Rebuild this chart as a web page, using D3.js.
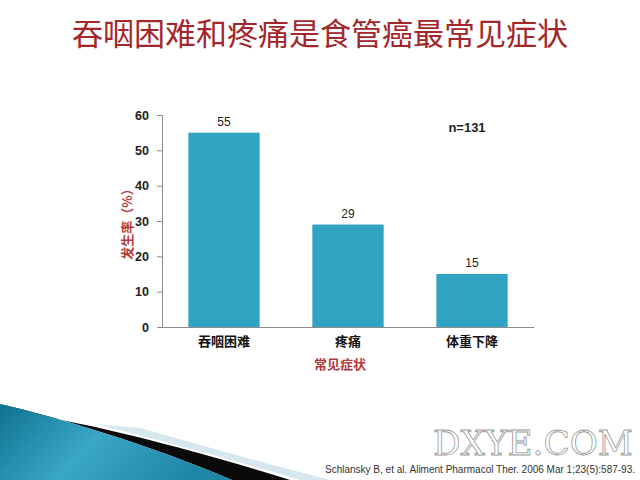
<!DOCTYPE html>
<html><head><meta charset="utf-8">
<script src="https://cdn.jsdelivr.net/npm/d3@7"></script>
<style>body{margin:0;background:#fff}svg{display:block}</style>
</head><body>
<script>
const categories = ["吞咽困难", "疼痛", "体重下降"];
const values = [55, 29, 15];
const yTicks = [0, 10, 20, 30, 40, 50, 60];
const title = "吞咽困难和疼痛是食管癌最常见症状";
const yLabel = "发生率（%）";
const xLabel = "常见症状";
const note = "n=131";
const citation = "Schlansky B, et al. Aliment Pharmacol Ther. 2006 Mar 1;23(5):587-93.";

const W = 640, H = 480;
const svg = d3.select("body").append("svg").attr("width", W).attr("height", H);
const defs = svg.append("defs");
const g1 = defs.append("linearGradient").attr("id","blueG").attr("x1","0").attr("y1","0").attr("x2","1").attr("y2","0.3");
g1.append("stop").attr("offset","0").attr("stop-color","#0f7390");
g1.append("stop").attr("offset","0.5").attr("stop-color","#3aa6c8");
g1.append("stop").attr("offset","1").attr("stop-color","#1f86a6");

// bottom decoration
svg.append("path").attr("d","M300,480 C240,462 160,440 95,424 L140,428 C200,445 260,462 330,480 Z").attr("fill","#d6e7ef");
svg.append("path").attr("d","M0,404 C60,418 150,445 232,480 L290,480 C220,458 120,430 40,416 C25,413 10,408 0,404 Z").attr("fill","#0a0a0a");
svg.append("path").attr("d","M0,404 C60,418 150,445 232,480 L0,480 Z").attr("fill","url(#blueG)");

const x = d3.scaleBand().domain(categories).range([162, 534]).padding(0);
const y = d3.scaleLinear().domain([0, 60]).range([327, 115]);
const barW = x.bandwidth() * 0.575;

svg.append("text").attr("x", 320).attr("y", 45).attr("text-anchor","middle")
  .attr("font-family","Noto Sans CJK SC").attr("font-size", 31).attr("fill","#a3262a").text(title);

// axes
const yAxis = d3.axisLeft(y).tickValues(yTicks).tickSize(5).tickPadding(8);
const ya = svg.append("g").attr("transform","translate(162,0)").call(yAxis);
ya.select(".domain").attr("stroke","#8c8c8c");
ya.selectAll(".tick line").attr("stroke","#8c8c8c");
ya.selectAll("text").attr("font-family","Liberation Sans, Arial").attr("font-weight","bold").attr("font-size",12.5).attr("fill","#222");

const xAxis = d3.axisBottom(x).tickSize(0).tickPadding(10);
const xa = svg.append("g").attr("transform","translate(0,327)").call(xAxis);
xa.select(".domain").attr("stroke","#8c8c8c");
xa.selectAll("text").attr("font-family","Noto Sans CJK SC").attr("font-weight","bold").attr("font-size",13).attr("fill","#111");

svg.append("g").selectAll("rect").data(values).join("rect")
  .attr("x",(d,i)=>x(categories[i]) + (x.bandwidth()-barW)/2)
  .attr("y",d=>y(d)).attr("width",barW).attr("height",d=>y(0)-y(d))
  .attr("fill","#2fa3c1");

svg.append("g").selectAll("text").data(values).join("text")
  .attr("x",(d,i)=>x(categories[i]) + x.bandwidth()/2)
  .attr("y",d=>y(d)-7).attr("text-anchor","middle")
  .attr("font-family","Liberation Sans, Arial").attr("font-size",12).attr("fill","#222").text(d=>d);

svg.append("text").attr("x",467).attr("y",132).attr("text-anchor","middle")
  .attr("font-family","Liberation Sans, Arial").attr("font-weight","bold").attr("font-size",13).attr("fill","#222").text(note);

svg.append("text").attr("transform","translate(132,221) rotate(-90)").attr("text-anchor","middle")
  .attr("font-family","Noto Sans CJK SC").attr("font-weight","bold").attr("font-size",13).attr("fill","#b5393c").text(yLabel);

svg.append("text").attr("x",340).attr("y",369).attr("text-anchor","middle")
  .attr("font-family","Noto Sans CJK SC").attr("font-weight","bold").attr("font-size",13).attr("fill","#b5393c").text(xLabel);

svg.append("text").attr("x",433).attr("y",455)
  .attr("font-family","DejaVu Serif").attr("font-size",34).attr("fill","#fff")
  .attr("stroke","#999").attr("stroke-width",0.8)
  .attr("textLength",200).attr("lengthAdjust","spacingAndGlyphs").text("DXYE.COM");

svg.append("text").attr("x",635).attr("y",473).attr("text-anchor","end")
  .attr("font-family","Liberation Sans, Arial").attr("font-size",10).attr("fill","#333").text(citation);
</script>
</body></html>
